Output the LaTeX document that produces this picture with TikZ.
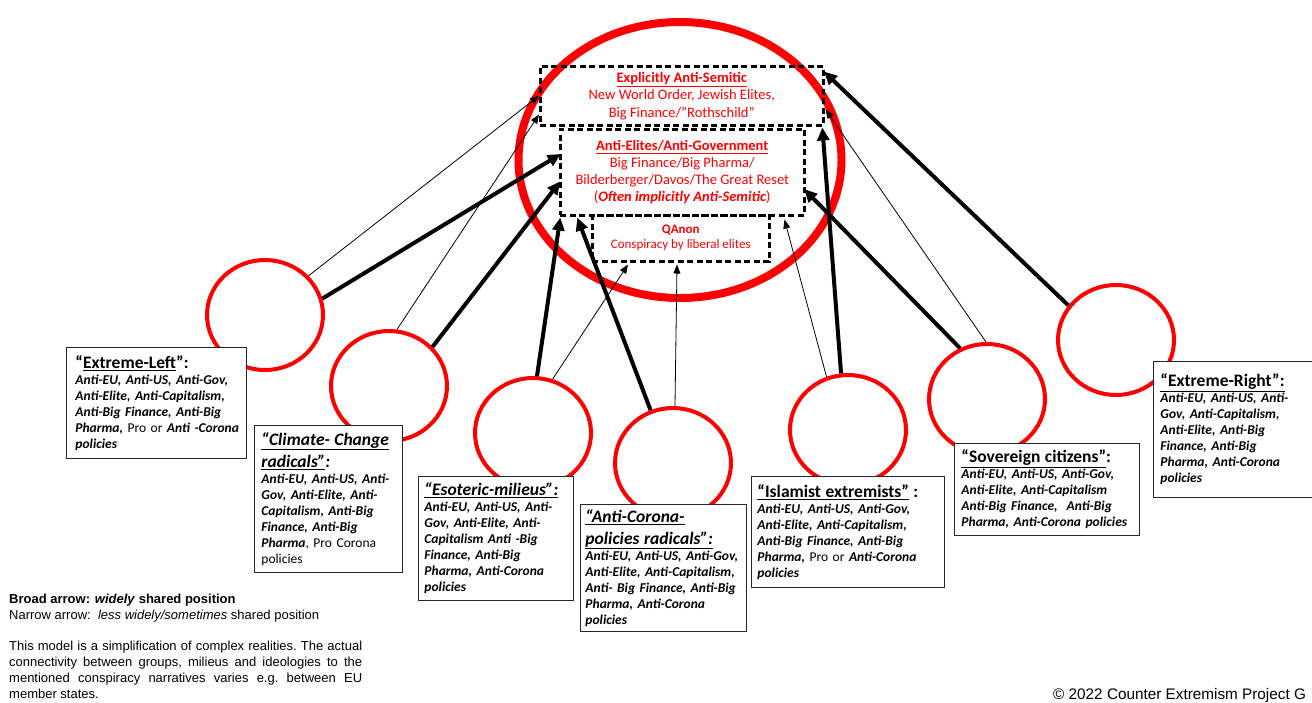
\documentclass[tikz,border=0pt]{standalone}
\usepackage{fontspec}
\setmainfont{Carlito}
\newfontfamily\arialf{Liberation Sans}
\usetikzlibrary{arrows.meta,calc,shapes.geometric}
\newcommand\hdu{\fontsize{17.5}{22}\selectfont\bfseries\upshape}
\newcommand\hdi{\fontsize{17.5}{22}\selectfont\bfseries\itshape}
\newcommand\rg[1]{{\mdseries\upshape #1}}
\newcommand\bl[1]{\mbox{#1}}
\begin{document}
\begin{tikzpicture}[x=1pt,y=-1pt,
  grp/.style={ellipse, draw=red, line width=4pt, minimum width=116pt, minimum height=110pt, inner sep=0pt},
  dbox/.style={draw=black, line width=2.5pt, dash pattern=on 6pt off 3.5pt, anchor=north west, inner sep=0pt, align=center, text=red},
  tbox/.style={draw=black!85, fill=white, line width=0.9pt, anchor=north west, align=left, inner xsep=7pt, inner ysep=2pt, font=\fontsize{13.5}{16}\selectfont\bfseries\itshape},
  warr/.style={-{Triangle[length=13pt,width=12pt]}, line width=4pt, shorten >=-2pt},
  narr/.style={-{Triangle[length=9pt,width=7pt]}, line width=0.8pt}]
\useasboundingbox (0,0) rectangle (1312,702);

% central ellipse
\node[ellipse, draw=red, line width=8pt, minimum width=323pt, minimum height=276pt, inner sep=0pt] (big) at (680,160) {};

% narrative boxes
\node[dbox, minimum width=283pt, minimum height=59pt, font=\fontsize{14.5}{17.5}\selectfont] (b1) at (539,65)
  {\textbf{\underline{Explicitly Anti-Semitic}}\\ New World Order, Jewish Elites,\\ Big Finance/”Rothschild”};
\node[dbox, minimum width=244pt, minimum height=86pt, font=\fontsize{14.5}{17}\selectfont] (b2) at (559,128)
  {\textbf{\underline{Anti-Elites/Anti-Government}}\\ Big Finance/Big Pharma/\\ Bilderberger/Davos/The Great Reset\\ (\textbf{\textit{Often implicitly Anti-Semitic}})};
\node[dbox, minimum width=177pt, minimum height=46pt, font=\fontsize{13}{15}\selectfont] (b3) at (591,214)
  {\textbf{QAnon}\\ Conspiracy by liberal elites};

% group circles
\node[grp] (c1) at (265,315) {};
\node[grp] (c2) at (389,386) {};
\node[grp] (c3) at (533,433) {};
\node[grp] (c4) at (673,463) {};
\node[grp] (c5) at (848,430) {};
\node[grp] (c6) at (987,399) {};
\node[grp] (c7) at (1116,340) {};

% group text boxes
\node[tbox, inner xsep=9pt, text width=162pt, minimum height=111pt] (t1) at (66,347)
  {{\hdu \bl{“\underline{Extreme-Left}”:}\par}
   \bl{Anti-EU, Anti-US, Anti-Gov,}\\ \bl{Anti-Elite, Anti-Capitalism,}\\ \bl{Anti-Big Finance, Anti-Big}\\ \bl{Pharma, \rg{Pro or} Anti -Corona}\\ policies};
\node[tbox, text width=134pt, minimum height=147pt] (t2) at (254,425)
  {{\hdi \bl{\underline{“Climate- Change}}\\ \bl{\underline{radicals”}:}\par}
   \bl{Anti-EU, Anti-US, Anti-}\\ \bl{Gov, Anti-Elite, Anti-}\\ \bl{Capitalism, Anti-Big}\\ \bl{Finance, Anti-Big}\\ \bl{Pharma\rg{, Pro Corona}}\\ \rg{policies}};
\node[tbox, inner xsep=6pt, text width=143pt, minimum height=124pt] (t3) at (418,476)
  {{\hdi \bl{\underline{“Esoteric-milieus”:}}\par}
   \bl{Anti-EU, Anti-US, Anti-}\\ \bl{Gov, Anti-Elite, Anti-}\\ \bl{Capitalism Anti -Big}\\ \bl{Finance, Anti-Big}\\ \bl{Pharma, Anti-Corona}\\ policies};
\node[tbox, inner xsep=5pt, text width=156pt, minimum height=127pt] (t4) at (580,504)
  {{\hdi \bl{\underline{“Anti-Corona-}}\\ \bl{\underline{policies radicals”:}}\par}
   \bl{Anti-EU, Anti-US, Anti-Gov,}\\ \bl{Anti-Elite, Anti-Capitalism,}\\ \bl{Anti- Big Finance, Anti-Big}\\ \bl{Pharma, Anti-Corona}\\ policies};
\node[tbox, inner xsep=6pt, text width=181pt, minimum height=111pt] (t5) at (751,476)
  {{\hdu \bl{\underline{“Islamist extremists”} :}\par}
   \bl{Anti-EU, Anti-US, Anti-Gov,}\\ \bl{Anti-Elite, Anti-Capitalism,}\\ \bl{Anti-Big Finance, Anti-Big}\\ \bl{Pharma, \rg{Pro or} Anti-Corona}\\ policies};
\node[tbox, inner xsep=7pt, text width=171pt, minimum height=92pt] (t6) at (954,443)
  {{\hdu \bl{\underline{“Sovereign citizens”}:}\par}
   \bl{Anti-EU, Anti-US, Anti-Gov,}\\ \bl{Anti-Elite, Anti-Capitalism}\\ \bl{Anti-Big Finance,\ \ Anti-Big}\\ \bl{Pharma, Anti-Corona policies}};
\node[tbox, inner xsep=7pt, text width=160pt, minimum height=136pt] (t7) at (1153,361)
  {{\hdu \bl{\underline{“Extreme-Right”:}}\par}
   \bl{Anti-EU, Anti-US, Anti-}\\ \bl{Gov, Anti-Capitalism,}\\ \bl{Anti-Elite, Anti-Big}\\ \bl{Finance, Anti-Big}\\ \bl{Pharma, Anti-Corona}\\ policies\\[8pt]};

% arrows
\draw[narr] (c1.42) -- (b1.west);
\draw[warr] (c1.16) -- ($(b2.north west)+(0,27)$);
\draw[narr] (c2.82) -- ($(b1.south west)+(0,-12)$);
\draw[warr] (c2.42) -- ($(b2.north west)+(0,55)$);
\draw[warr] (c3.86) -- ($(b2.south west)+(1,3)$);
\draw[narr] (c3.70) -- ($(b3.south west)+(37,2)$);
\draw[warr] (c4.113) -- ($(b2.south west)+(19,3)$);
\draw[narr] (c4.88) -- ($(b3.south west)+(86,2)$);
\draw[narr] (c5.112) -- ($(b2.south east)+(-21,3)$);
\draw[warr] (c5.97) -- ($(b1.south east)+(-2,3)$);
\draw[warr] (c6.118) -- ($(b2.south east)+(0,-26)$);
\draw[narr] (c6.91) -- ($(b1.south east)+(1,-17)$);
\draw[warr] (c7.144) -- ($(b1.north east)+(1,8)$);

% legend and notes
\node[anchor=north west, align=left, inner sep=0pt, font=\arialf\fontsize{13}{16}\selectfont] (leg) at (9,594)
  {\textbf{Broad arrow: \textit{widely} shared position}\\ Narrow arrow:\ \ \textit{less widely/sometimes} shared position};
\node[anchor=north west, align=justify, text width=353pt, inner sep=0pt, font=\arialf\fontsize{13}{16}\selectfont] (note) at (9,641)
  {\frenchspacing\hyphenpenalty=10000 \exhyphenpenalty=10000 This model is a simplification of complex realities. The actual connectivity between groups, milieus and ideologies to the mentioned conspiracy narratives varies e.g. between EU member states.\par};
\node[anchor=base west, inner sep=0pt, font=\arialf\fontsize{15.3}{18}\selectfont] (copy) at (1053,699)
  {© 2022 Counter Extremism Project G};
\end{tikzpicture}
\end{document}
